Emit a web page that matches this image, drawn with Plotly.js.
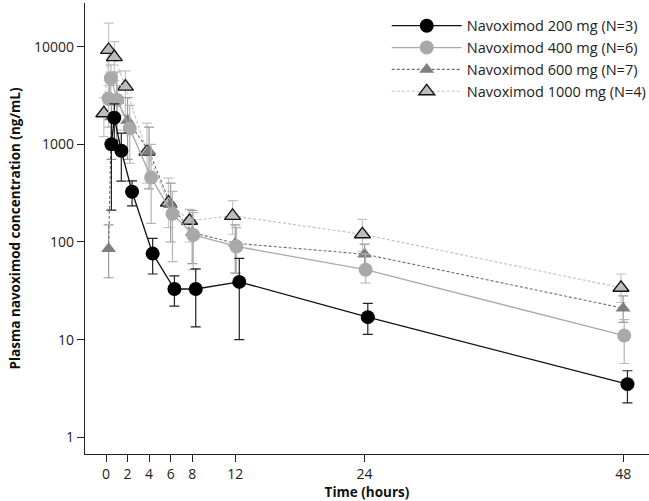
<!DOCTYPE html>
<html>
<head>
<meta charset="utf-8">
<script src="https://cdn.plot.ly/plotly-3.0.1.min.js"></script>
<style>html,body{margin:0;padding:0;background:#fff;}#chart{width:649px;height:501px;}</style>
</head>
<body>
<div id="chart"></div>
<script>
// Series names
const seriesNames = ["Navoximod 200 mg (N=3)", "Navoximod 400 mg (N=6)", "Navoximod 600 mg (N=7)", "Navoximod 1000 mg (N=4)"];

// 200 mg
const t200 = [0.5, 0.77, 1.42, 2.42, 4.33, 6.35, 8.33, 12.37, 24.3, 48.4];
const c200 = [1000, 1870, 860, 327, 76, 33, 33, 39, 17, 3.5];
const hi200 = [1900, 2600, 1300, 422, 109, 45, 53, 68, 23.5, 4.8];
const lo200 = [212, 1100, 420, 234, 47, 22, 13.5, 10, 11.3, 2.25];

// 400 mg
const t400 = [0.24, 0.45, 1.05, 2.2, 4.19, 6.17, 8.1, 12.1, 24.1, 48.1];
const c400 = [2950, 4750, 2850, 1450, 456, 194, 118, 90, 52, 11];
const hi400 = [4500, 6500, 4000, 2500, 1000, 330, 200, 140, 75, 16];
const lo400 = [1500, 2500, 1400, 640, 155, 63, 52, 48, 38, 5.7];

// 600 mg
const t600 = [0.24, 0.5, 1.0, 2.0, 4.0, 6.0, 8.0, 12.0, 24.0, 48.0];
const c600 = [85, 1900, 2800, 1750, 850, 240, 125, 97, 75, 21];
const hi600 = [150, 3200, 5500, 3000, 1500, 400, 210, 150, 95, 28];
const lo600 = [43, 700, 900, 700, 350, 100, 60, 48, 55, 15];

// 1000 mg
const t1000 = [-0.2, 0.24, 0.77, 1.8, 3.8, 5.8, 7.75, 11.75, 23.8, 47.8];
const c1000 = [2080, 9250, 7800, 3900, 840, 253, 165, 185, 120, 34];
const hi1000 = [3000, 17400, 11250, 5640, 1645, 450, 216, 265, 170, 47];
const lo1000 = [1200, 4000, 4500, 2000, 400, 140, 100, 120, 80, 24];

// Axis ticks
const xTicks = [0, 2, 4, 6, 8, 12, 24, 48];
const yTicks = [1, 10, 100, 1000, 10000];
const yTickText = ["1", "10", "100", "1000", "10000"];

function diff(a, b, sign) { return a.map((v, i) => sign > 0 ? b[i] - v : v - b[i]); }

function mk(name, t, c, hi, lo, line, marker, errColor) {
  return {
    type: 'scatter', mode: 'lines+markers', name: name,
    x: t, y: c,
    line: line, marker: marker,
    error_y: { type: 'data', symmetric: false, array: diff(c, hi, 1), arrayminus: diff(c, lo, -1),
               color: errColor, thickness: 1.2, width: 5 }
  };
}

const traces = [
  mk(seriesNames[3], t1000, c1000, hi1000, lo1000, {color: '#c4c4c4', width: 1.2, dash: '3px,2px'},
     {symbol: 'triangle-up', size: 14, color: '#bdbdbd', line: {color: '#111', width: 1.3}}, '#c4c4c4'),
  mk(seriesNames[2], t600, c600, hi600, lo600, {color: '#6f6f6f', width: 1.1, dash: '3px,2px'},
     {symbol: 'triangle-up', size: 13, color: '#7f7f7f', line: {width: 0}}, '#9a9a9a'),
  mk(seriesNames[1], t400, c400, hi400, lo400, {color: '#aaaaaa', width: 1.3},
     {symbol: 'circle', size: 14, color: '#a9a9a9', line: {width: 0}}, '#b5b5b5'),
  mk(seriesNames[0], t200, c200, hi200, lo200, {color: '#111', width: 1.3},
     {symbol: 'circle', size: 14, color: '#000', line: {width: 0}}, '#222')
];

const layout = {
  width: 649, height: 501,
  margin: {l: 85, r: 0, t: 3, b: 47, autoexpand: false},
  paper_bgcolor: '#fff', plot_bgcolor: '#fff',
  font: {family: 'Open Sans, Noto Sans, sans-serif', size: 14, color: '#222'},
  showlegend: true,
  legend: {x: 0.535, y: 0.985, xanchor: 'left', yanchor: 'top', traceorder: 'reversed',
           font: {size: 14.5, color: '#222', family: 'Open Sans, sans-serif'},
           itemwidth: 70, tracegroupgap: 0, bgcolor: 'rgba(0,0,0,0)'},
  xaxis: {
    range: [-1.95, 50.4], tickvals: xTicks, ticktext: xTicks.map(String),
    ticks: 'outside', ticklen: 7, tickcolor: '#222', showline: true, linecolor: '#222', linewidth: 1.2,
    showgrid: false, zeroline: false, automargin: false,
    title: {text: '<b>Time (hours)</b>', font: {size: 13.5, color: '#111'}, standoff: 4}
  },
  yaxis: {
    type: 'log', range: [-0.171, 4.447], tickvals: yTicks, ticktext: yTickText,
    ticks: 'outside', ticklen: 7, tickcolor: '#222', showline: true, linecolor: '#222', linewidth: 1.2,
    showgrid: false, zeroline: false, automargin: false,
    title: {text: '<b>Plasma navoximod concentration (ng/mL)</b>', font: {size: 13.5, color: '#111'}, standoff: 10}
  }
};

Plotly.newPlot('chart', traces, layout, {displayModeBar: false, staticPlot: true});
</script>
</body>
</html>
